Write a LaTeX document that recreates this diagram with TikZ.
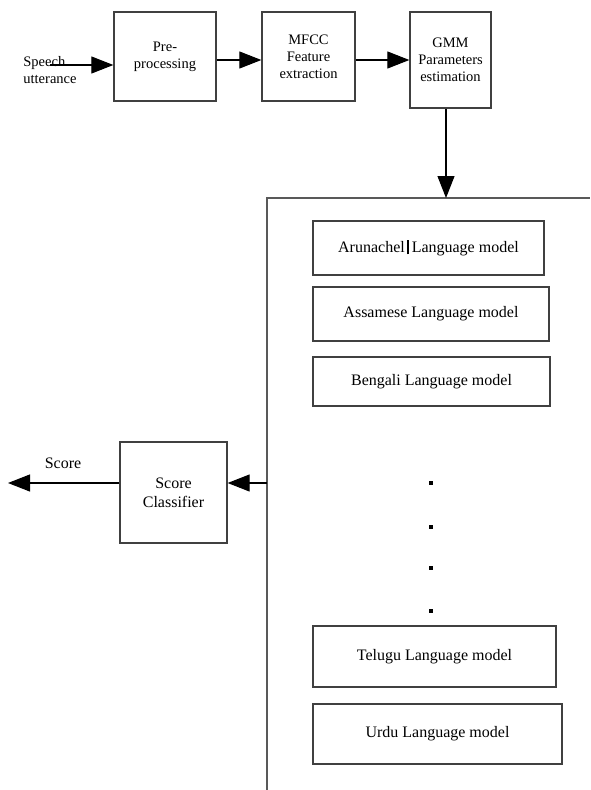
\documentclass[tikz,border=0pt]{standalone}
\usepackage{fontspec}
\setmainfont{Liberation Serif}
\usetikzlibrary{arrows.meta}
\begin{document}
\begin{tikzpicture}[x=1pt,y=-1pt]
  \useasboundingbox (0,0) rectangle (590,790);
  % front end
  \begin{scope}[every node/.style={draw=black!75,line width=1.3pt,align=center,inner sep=0pt,font=\fontsize{14.5}{17}\selectfont}]
    \node[minimum width=102,minimum height=89] (pre) at (165,56.5) {Pre-\\processing};
    \node[minimum width=93,minimum height=89] (mfcc) at (308.5,56.5) {MFCC\\Feature\\extraction};
    \node[minimum width=81,minimum height=96] (gmm) at (450.5,60) {GMM\\Parameters\\estimation};
  \end{scope}
  \node[align=left,inner sep=0pt,font=\fontsize{14.5}{17}\selectfont] (speech) at (50,70) {Speech\\utterance};
  % language models
  \draw[draw=black!65,line width=1.6pt] (267,790) -- (267,198) -- (590,198);
  \coordinate (top) at (446,198);
  \coordinate (tap) at (267,483);
  \begin{scope}[every node/.style={draw=black!75,line width=1.3pt,inner sep=0pt,font=\fontsize{16}{19}\selectfont}]
    \node[minimum width=231,minimum height=54] (aru) at (428.5,248) {Arunachel\,\rule[-2pt]{1.6pt}{14pt}\,Language model};
    \node[minimum width=236,minimum height=54] (asm) at (431,314) {Assamese Language model};
    \node[minimum width=237,minimum height=49] (ben) at (431.5,381.5) {Bengali Language model};
    \node[minimum width=243,minimum height=61] (tel) at (434.5,656.5) {Telugu Language model};
    \node[minimum width=249,minimum height=60] (urd) at (437.5,734) {Urdu Language model};
    \node[minimum width=107,minimum height=101,align=center] (cls) at (173.5,492.5) {Score\\Classifier};
  \end{scope}
  \foreach \y [count=\i] in {483,527,568,611}
    \node[rectangle,fill=black,inner sep=0pt,minimum size=3.5pt] (dot\i) at (431,\y) {};
  \node[font=\fontsize{16}{19}\selectfont,inner sep=0pt] (score) at (63,463) {Score};
  \coordinate (src) at (50,65);
  \coordinate (out) at (8,483);
  % connectors
  \begin{scope}[every edge/.style={draw=black,line width=1.1pt,-{Triangle[length=22pt,width=17pt]}}]
    \path (src) edge (pre.west |- src);
    \path ([yshift=-3.5pt]pre.east) edge ([yshift=-3.5pt]mfcc.west);
    \path ([yshift=-3.5pt]mfcc.east) edge (gmm.west);
    \path (gmm.south -| top) edge (top);
    \path (tap) edge (cls.east |- tap);
    \path (cls.west |- tap) edge (out);
  \end{scope}
\end{tikzpicture}
\end{document}
